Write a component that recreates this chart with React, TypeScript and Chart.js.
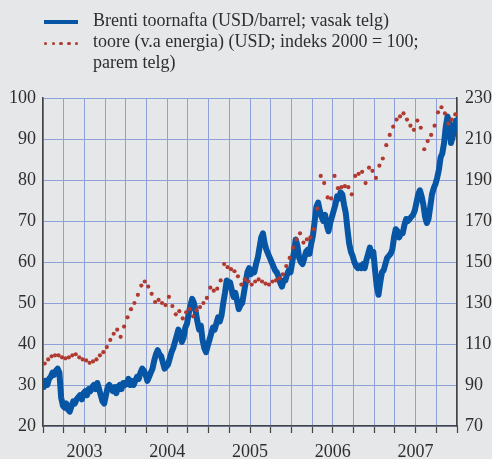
import { useEffect, useRef } from 'react';
import { Chart, registerables } from 'chart.js';

Chart.register(...registerables);

// Time base: observations start Jan 2003
const START_YEAR = 2003;
const BRENT_PER_YEAR = 48; // weekly-ish
const INDEX_PER_YEAR = 24; // semi-monthly

const yearLabels = ['2003', '2004', '2005', '2006', '2007'];

const legendLabels = [
  'Brenti toornafta (USD/barrel; vasak telg)',
  'toore (v.a energia) (USD; indeks 2000 = 100;',
  'parem telg)',
];

// Brent crude, USD/barrel (left axis)
const brent2003 = [29.5, 31.0, 30.0, 31.5, 32.0, 33.0, 32.5, 33.5, 34.0, 33.0, 27.0, 25.0, 24.5, 25.5, 24.0, 23.5, 24.8, 26.0, 25.5, 26.5, 27.0, 27.5, 26.5, 28.0, 28.5, 27.5, 29.0, 28.5, 29.5, 30.0, 29.0, 30.5, 29.0, 27.5, 26.0, 25.5, 27.5, 29.5, 30.0, 29.0, 28.5, 29.5, 28.0, 29.5, 30.0, 29.0, 30.5, 30.0];
const brent2004 = [30.5, 31.5, 30.0, 31.0, 30.0, 31.0, 32.0, 31.5, 33.0, 34.0, 33.5, 32.5, 31.0, 32.0, 33.0, 34.0, 36.0, 37.5, 38.5, 37.5, 37.0, 35.5, 34.0, 34.5, 35.0, 36.5, 38.0, 39.0, 40.5, 42.0, 43.5, 42.5, 40.5, 41.5, 44.0, 45.0, 47.5, 49.5, 51.0, 50.0, 48.0, 45.5, 43.5, 44.5, 41.0, 39.0, 38.0, 39.5];
const brent2005 = [41.0, 42.5, 44.0, 43.5, 45.0, 46.5, 45.5, 47.0, 50.0, 52.5, 55.5, 54.5, 55.0, 53.0, 51.5, 52.5, 50.5, 48.5, 49.5, 50.0, 52.5, 55.0, 57.5, 58.5, 57.0, 58.0, 57.5, 59.5, 61.0, 63.5, 66.0, 67.0, 64.5, 63.0, 62.0, 61.0, 60.0, 59.0, 58.0, 57.5, 56.5, 55.0, 54.0, 55.5, 55.5, 57.0, 58.0, 57.5];
const brent2006 = [60.0, 62.5, 65.5, 64.0, 61.0, 60.0, 59.5, 61.0, 62.5, 63.0, 62.0, 64.5, 66.5, 70.0, 73.5, 74.5, 72.5, 71.0, 70.0, 71.5, 69.0, 67.5, 69.5, 71.0, 72.5, 74.0, 76.0, 75.5, 77.0, 76.5, 74.0, 72.0, 68.0, 64.5, 62.5, 61.5, 60.0, 59.0, 58.5, 59.0, 58.5, 59.5, 58.5, 60.5, 62.0, 63.5, 61.5, 62.5];
const brent2007 = [58.0, 54.0, 52.0, 55.0, 57.5, 58.0, 59.5, 61.0, 61.5, 62.0, 63.0, 66.0, 68.0, 67.5, 66.0, 67.0, 67.0, 69.0, 70.5, 70.0, 70.5, 71.0, 71.5, 72.5, 74.5, 76.5, 77.5, 76.0, 74.0, 71.0, 69.5, 70.5, 73.5, 76.5, 78.0, 79.0, 80.5, 82.5, 85.5, 86.5, 89.0, 93.0, 95.5, 94.0, 89.0, 90.5, 93.0, 94.5];

// Commodities ex energy, USD index 2000 = 100 (right axis)
const index2003 = [100.5, 102.5, 104.0, 104.5, 104.5, 103.5, 103.0, 103.5, 104.5, 105.0, 103.5, 102.5, 102.0, 100.8, 101.5, 102.5, 104.5, 106.0, 108.5, 112.0, 115.0, 117.0, 113.5, 118.5];
const index2004 = [123.0, 127.0, 130.0, 134.0, 138.5, 140.5, 138.0, 134.5, 130.5, 131.5, 130.0, 129.0, 133.0, 128.5, 124.5, 126.0, 122.5, 125.5, 127.0, 123.5, 126.5, 128.0, 130.0, 132.5];
const index2005 = [137.5, 136.0, 137.0, 141.0, 149.0, 147.5, 146.5, 145.5, 143.0, 139.0, 141.5, 140.5, 139.0, 140.5, 141.5, 140.5, 139.5, 139.0, 140.5, 141.0, 142.0, 144.0, 148.0, 152.0];
const index2006 = [157.0, 161.0, 164.0, 159.5, 161.0, 162.0, 166.0, 176.0, 192.0, 188.5, 181.5, 181.0, 192.0, 186.0, 186.5, 187.0, 186.5, 183.0, 192.0, 193.0, 194.0, 188.5, 196.0, 194.5];
const index2007 = [191.0, 197.0, 200.5, 207.0, 212.0, 216.0, 219.5, 221.0, 222.5, 219.5, 216.5, 214.5, 219.0, 215.5, 205.0, 209.0, 212.0, 216.5, 223.0, 225.5, 222.5, 217.5, 219.5, 222.0];

const brent = [...brent2003, ...brent2004, ...brent2005, ...brent2006, ...brent2007];
const commodityIndex = [...index2003, ...index2004, ...index2005, ...index2006, ...index2007];

const BLUE = '#0755a5';
const RED = '#b03a30';
const GRID = '#8ea0d8';
const AXIS = '#444444';
const TEXT = '#2e2e2e';
const BG = '#e6e7e9';
const FONT = "'Liberation Serif', 'Times New Roman', serif";
const FONT_SIZE = 18;

function toPoints(values: number[], perYear: number) {
  return values.map((v, i) => ({ x: START_YEAR + (i + 0.5) / perYear, y: v }));
}

export default function App() {
  const canvasRef = useRef<HTMLCanvasElement | null>(null);

  useEffect(() => {
    document.body.style.margin = '0';
    const canvas = canvasRef.current;
    if (!canvas) return;
    const chart = new Chart(canvas, {
      type: 'line',
      data: {
        datasets: [
          {
            label: legendLabels[1],
            data: toPoints(commodityIndex, INDEX_PER_YEAR),
            yAxisID: 'y2',
            showLine: false,
            pointRadius: 2.1,
            pointBackgroundColor: RED,
            pointBorderWidth: 0,
            borderColor: RED,
            order: 0,
          },
          {
            label: legendLabels[0],
            data: toPoints(brent, BRENT_PER_YEAR),
            yAxisID: 'y',
            borderColor: BLUE,
            borderWidth: 6,
            pointRadius: 0,
            tension: 0,
            borderJoinStyle: 'round',
            borderCapStyle: 'round',
            order: 1,
          },
        ],
      },
      options: {
        responsive: false,
        animation: false,
        layout: { padding: { top: 98, left: 0, right: 0, bottom: 0 } },
        plugins: {
          legend: { display: false },
          tooltip: { enabled: false },
        },
        scales: {
          x: {
            type: 'linear',
            min: 2003,
            max: 2008,
            afterFit: (s: any) => {
              s.height = 33;
            },
            ticks: {
              stepSize: 0.25,
              autoSkip: false,
              maxRotation: 0,
              minRotation: 0,
              padding: 8,
              color: TEXT,
              font: { family: FONT, size: FONT_SIZE },
              callback: (v: any) => {
                const n = Number(v);
                const frac = n - Math.floor(n);
                if (Math.abs(frac - 0.5) < 0.01) {
                  const idx = Math.floor(n) - START_YEAR;
                  return yearLabels[idx] ?? '';
                }
                return '';
              },
            },
            grid: {
              color: GRID,
              lineWidth: 1,
              drawTicks: true,
              tickLength: 7,
              tickColor: AXIS,
              tickWidth: 1.2,
            },
            border: { display: true, color: AXIS, width: 1.5 },
          },
          y: {
            type: 'linear',
            position: 'left',
            min: 20,
            max: 100,
            afterFit: (s: any) => {
              s.width = 43;
            },
            ticks: {
              stepSize: 10,
              padding: 7,
              color: TEXT,
              font: { family: FONT, size: FONT_SIZE },
            },
            grid: { color: GRID, lineWidth: 1, drawTicks: false },
            border: { display: true, color: AXIS, width: 1.5 },
          },
          y2: {
            type: 'linear',
            position: 'right',
            min: 70,
            max: 230,
            afterFit: (s: any) => {
              s.width = 35;
            },
            ticks: {
              stepSize: 20,
              padding: 8,
              color: TEXT,
              font: { family: FONT, size: FONT_SIZE },
            },
            grid: { display: false, drawOnChartArea: false, drawTicks: false },
            border: { display: true, color: AXIS, width: 1.5 },
          },
        },
      },
    });
    return () => chart.destroy();
  }, []);

  const dotXs = [45.7, 53.3, 61, 69, 76.7];

  return (
    <div style={{ position: 'relative', width: 492, height: 459, background: BG, overflow: 'hidden' }}>
      <canvas ref={canvasRef} width={492} height={459} style={{ display: 'block', position: 'absolute', left: 0, top: 0 }} />
      <div style={{ position: 'absolute', left: 44, top: 20, width: 34, height: 4, background: BLUE }} />
      {dotXs.map((x, i) => (
        <div
          key={i}
          style={{
            position: 'absolute',
            left: x - 1.8,
            top: 43.3 - 1.8,
            width: 3.6,
            height: 3.6,
            borderRadius: '50%',
            background: RED,
          }}
        />
      ))}
      <div
        style={{
          position: 'absolute',
          left: 93,
          top: 9.5,
          fontFamily: FONT,
          fontSize: FONT_SIZE,
          lineHeight: '21px',
          color: TEXT,
          whiteSpace: 'nowrap',
        }}
      >
        {legendLabels.map((t, i) => (
          <div key={i}>{t}</div>
        ))}
      </div>
    </div>
  );
}
